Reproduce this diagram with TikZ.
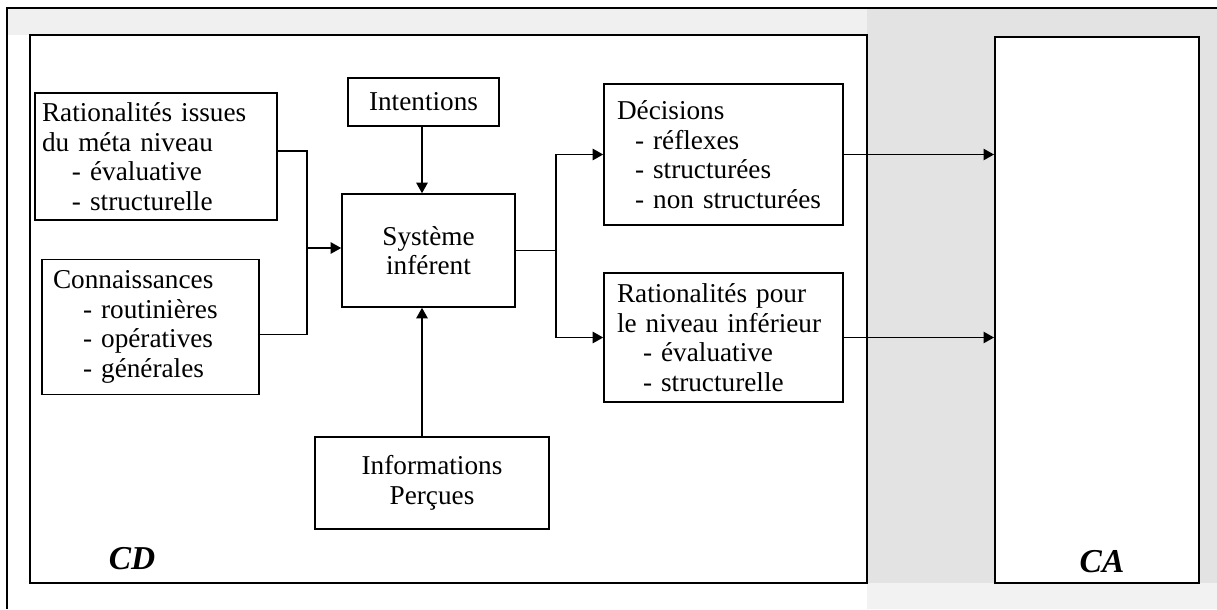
\documentclass[tikz,border=0pt]{standalone}
\usepackage{fontspec}
\setmainfont{Liberation Serif}
\usetikzlibrary{positioning,arrows.meta}

\newlength\px
\setlength\px{0.02cm}
\newcommand{\retrait}[1]{\hspace*{#1}}

\tikzset{
  bloc/.style={draw, line width=0.9pt, inner sep=0pt, fill=white,
    font=\fontsize{15.5}{16.8}\selectfont},
  liste/.style={bloc, align=left},
  centre/.style={bloc, align=center},
  cadre/.style={draw, line width=1.1pt, fill=white, inner sep=0pt},
  etiq/.style={font=\fontsize{19}{19}\selectfont\bfseries\itshape},
  lien/.style={line width=0.85pt},
  fleche/.style={lien, -{Triangle[length=6pt,width=6.5pt]}}
}

\begin{document}
\begin{tikzpicture}[x=1\px, y=-1\px]
  \useasboundingbox (0,0) rectangle (1217,609);
  % grey background
  \fill[gray!12] (7,8) rectangle (867,35);
  \fill[gray!22] (867,8) rectangle (1217,583);
  \fill[gray!10] (867,583) rectangle (1217,609);
  \draw[line width=1.3pt] (7,609) -- (7,8) -- (1217,8); % outer frame

  % the two parts
  \node[cadre, minimum width=837\px, minimum height=548\px] (cd) at (448.5,309) {};
  \node[cadre, minimum width=204\px, minimum height=546\px] (ca) at (1097,310) {};
  \node[etiq] (cdlab) at (132,559) {CD};
  \node[etiq] (calab) at (1102,562) {CA};

  % inputs
  \node[liste, minimum width=242\px, minimum height=127\px, inner xsep=7\px, text width=228\px]
    (ratmeta) at (156,156.5) {Rationalités issues\\du méta niveau\\\retrait{30\px}- évaluative\\\retrait{30\px}- structurelle};
  \node[liste, minimum width=217\px, minimum height=135\px, inner xsep=11\px, text width=195\px]
    (conn) at (150.5,327) {Connaissances\\\retrait{30\px}- routinières\\\retrait{30\px}- opératives\\\retrait{30\px}- générales};
  \node[centre, minimum width=151\px, minimum height=48\px] (intent) at (423.5,102) {Intentions};
  \node[centre, minimum width=173\px, minimum height=113\px] (sys) at (428.5,250.5) {Système\\inférent};
  \node[centre, minimum width=234\px, minimum height=92\px] (info) at (432,483) {Informations\\Perçues};

  % outputs
  \node[liste, minimum width=239\px, minimum height=141\px, inner xsep=13\px, text width=213\px]
    (dec) at (723.5,154.5) {Décisions\\\retrait{18\px}- réflexes\\\retrait{18\px}- structurées\\\retrait{18\px}- non structurées};
  \node[liste, minimum width=239\px, minimum height=129\px, inner xsep=13\px, text width=213\px]
    (ratinf) at (723.5,337.5) {Rationalités pour\\le niveau inférieur\\\retrait{26\px}- évaluative\\\retrait{26\px}- structurelle};

  % connectors
  \coordinate (jin) at (307,248);
  \coordinate (jout) at (556,250);
  \coordinate (axe) at (422,0);
  \draw[lien] ([yshift=5.5\px]ratmeta.east) -- ([yshift=5.5\px]ratmeta.east -| jin)
    -- ([yshift=-7.5\px]conn.east -| jin) -- ([yshift=-7.5\px]conn.east);
  \draw[fleche] (jin) -- (jin -| sys.west);
  \draw[fleche] (axe |- intent.south) -- (axe |- sys.north);
  \draw[fleche] (axe |- info.north) -- (axe |- sys.south);
  \draw[lien] (sys.east) -- (jout |- sys.east);
  \draw[fleche] (jout |- sys.east) |- (dec.west);
  \draw[fleche] (jout |- sys.east) |- (ratinf.west);
  \draw[fleche] (dec.east) -- (dec.east -| ca.west);
  \draw[fleche] (ratinf.east) -- (ratinf.east -| ca.west);
\end{tikzpicture}
\end{document}
